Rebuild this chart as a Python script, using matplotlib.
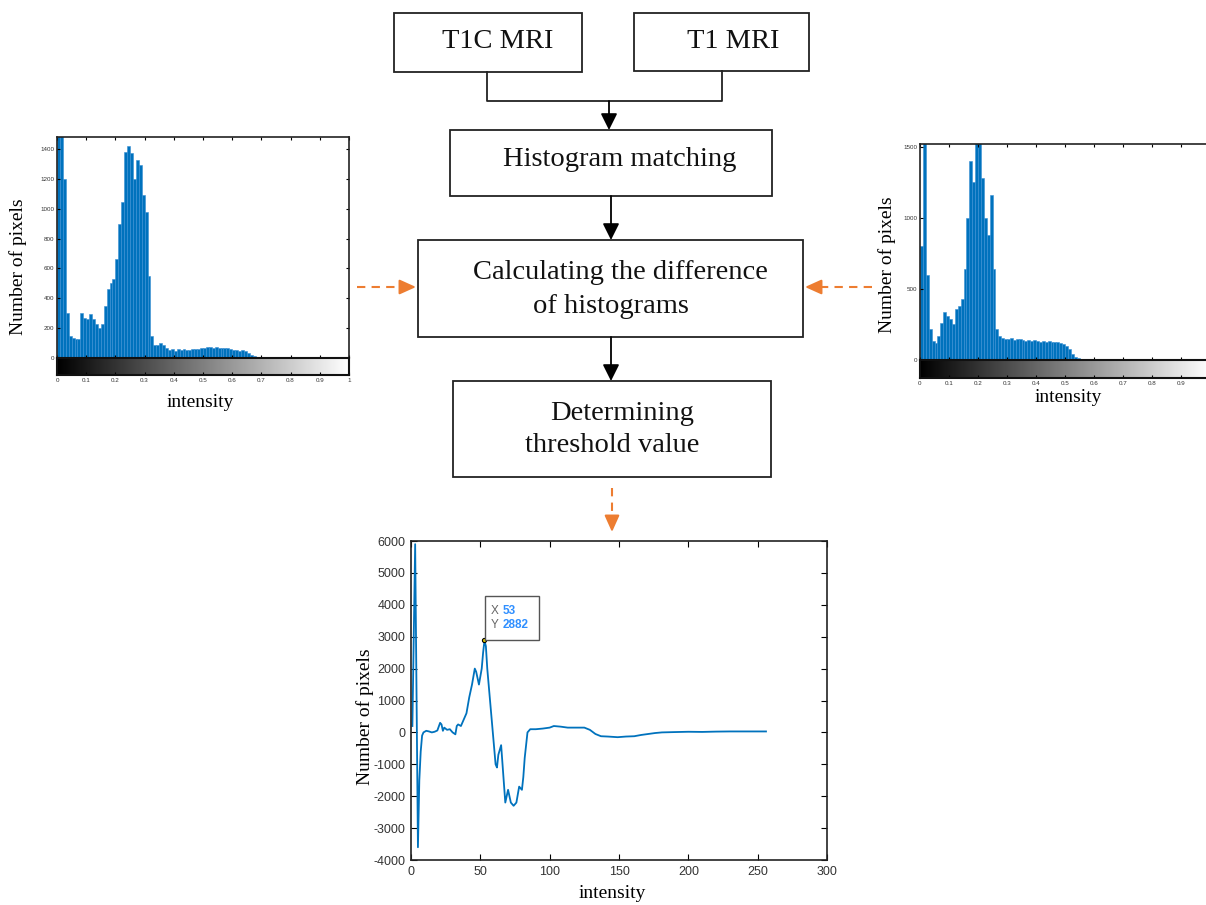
import matplotlib
matplotlib.use("Agg")
import matplotlib.pyplot as plt
import matplotlib.transforms as mtransforms
from matplotlib.patches import Rectangle
import numpy as np

plt.rcParams["axes.unicode_minus"] = False

W, H = 1206, 905

# histogram of T1C image (left), bins of width 0.01 starting at 0
t1c_counts = [3000, 2500, 1200, 300, 146, 135, 128, 124, 303, 270,
              258, 292, 258, 225, 202, 225, 348, 460, 505, 528,
              663, 900, 1045, 1380, 1420, 1370, 1200, 1325, 1290, 1090,
              977, 550, 146, 90, 90, 100, 90, 67, 56, 60,
              50, 62, 55, 58, 52, 56, 60, 58, 62, 66,
              70, 72, 74, 70, 72, 68, 70, 66, 64, 62,
              56, 54, 50, 56, 45, 35, 22, 15, 10, 5, 2]

# histogram of T1 image (right)
t1_counts = [800, 2000, 600, 217, 135, 123, 170, 260, 335, 311,
             288, 252, 358, 382, 430, 642, 996, 1397, 1255, 1600,
             1600, 1280, 996, 878, 1161, 642, 217, 170, 158, 150,
             146, 155, 140, 150, 145, 140, 135, 138, 132, 140,
             136, 130, 135, 128, 132, 130, 126, 128, 120, 115,
             100, 75, 40, 24, 12, 6, 4, 2]

# difference of the histograms
diff_x = [1, 3, 5, 6, 7, 8, 9, 11, 13, 15, 17, 19, 21, 22, 23, 24, 26, 28, 30, 32,
          33, 34, 36, 38, 40, 42, 44, 46, 47, 49, 51, 52, 53, 54, 55, 57, 59, 61, 62, 63,
          65, 66, 68, 69, 70, 72, 74, 76, 78, 80, 81, 82, 84, 86, 90, 95, 100, 103, 108, 113,
          119, 125, 129, 133, 137, 142, 149, 155, 161, 166, 171, 176, 181, 190, 200, 210, 220, 230,
          240, 250, 256]
diff_y = [200, 5900, -3600, -1500, -600, -100, 0, 50, 30, 0, 20, 60, 300, 250, 50, 150, 80, 100, 0, -60,
          200, 250, 200, 400, 600, 1100, 1500, 2000, 1900, 1500, 2000, 2500, 2882, 2700, 2000, 1000, 0, -1000, -1100, -700,
          -400, -1000, -2200, -2000, -1800, -2200, -2300, -2200, -1700, -1800, -1400, -800, 0, 100, 100, 120, 150, 200, 180, 150,
          150, 150, 80, -50, -120, -130, -150, -130, -120, -80, -50, -20, 0, 10, 20, 15, 25, 30,
          30, 30, 30]
tip_x, tip_y = 53, 2882

blue = "#0072BD"
orange = "#ED7D31"
serif = "Liberation Serif"
sans = "Liberation Sans"


def fr(x0, y0, x1, y1):
    # pixel box (top-left origin) -> figure fraction rect
    return [x0 / W, 1 - y1 / H, (x1 - x0) / W, (y1 - y0) / H]


fig = plt.figure(figsize=(W / 100, H / 100), dpi=100)

# ---- flowchart layer
bg = fig.add_axes([0, 0, 1, 1])
bg.set_xlim(0, W)
bg.set_ylim(H, 0)
bg.axis("off")

boxes = [(394, 13, 582, 72), (634, 13, 809, 71), (450, 130, 772, 196),
         (418, 240, 803, 337), (453, 381, 771, 477)]
for x0, y0, x1, y1 in boxes:
    bg.add_patch(Rectangle((x0, y0), x1 - x0, y1 - y0, fill=False, ec="#222222", lw=1.3))

box_texts = [("T1C MRI", 498, 41), ("T1 MRI", 733, 42), ("Histogram matching", 620, 160),
             ("Calculating the difference", 620, 272), ("of histograms", 611, 306),
             ("Determining", 622, 413), ("threshold value", 612, 445)]
for s, x, y in box_texts:
    bg.text(x, y, s, ha="center", va="center", fontsize=20.5, family=serif, color="#111111")

# connector between the two inputs
bg.plot([487, 487, 722, 722], [72, 101, 101, 71], color="#222222", lw=1.3)

black_arrows = [((609, 101), (609, 130)), ((611, 196), (611, 240)), ((611, 337), (611, 381))]
for (xs, ys), (xe, ye) in black_arrows:
    bg.annotate("", xy=(xe, ye), xytext=(xs, ys),
                arrowprops=dict(arrowstyle="-|>,head_length=1.0,head_width=0.5",
                                color="black", lw=1.3, shrinkA=0, shrinkB=0))

orange_arrows = [((357, 287), (416, 287)), ((872, 287), (805, 287)), ((612, 488), (612, 532))]
for (xs, ys), (xe, ye) in orange_arrows:
    # dashed shaft, solid head
    hx = xe - np.sign(xe - xs) * 14
    hy = ye - np.sign(ye - ys) * 14
    bg.plot([xs, hx], [ys, hy], color=orange, lw=1.5, ls=(0, (4, 3)))
    bg.annotate("", xy=(xe, ye), xytext=(hx, hy),
                arrowprops=dict(arrowstyle="-|>,head_length=1.0,head_width=0.45",
                                color=orange, lw=1.5, shrinkA=0, shrinkB=0))

gradient = np.linspace(0, 1, 256).reshape(1, -1)
cb_ticks = np.round(np.arange(0, 1.01, 0.1), 1)
cb_labels = ["0"] + ["%.1f" % v for v in cb_ticks[1:-1]] + ["1"]


def histogram_panel(rect_ax, rect_cb, counts, ymax, yticks, nlabels):
    ax = fig.add_axes(fr(*rect_ax))
    centers = np.arange(len(counts)) * 0.01 + 0.005
    ax.bar(centers, counts, width=0.01, color=blue, edgecolor="#3a8fd4", lw=0.4)
    ax.set_xlim(0, 1)
    ax.set_ylim(0, ymax)
    ax.set_xticks(cb_ticks)
    ax.set_xticklabels([])
    ax.set_yticks(yticks)
    ax.set_yticklabels([str(v) for v in yticks], fontsize=4.5, family=sans, color="#333333")
    ax.tick_params(direction="in", length=2.5, width=0.8, top=True, right=True, pad=2)
    for sp in ax.spines.values():
        sp.set_linewidth(1.2)
        sp.set_color("#222222")

    cb = fig.add_axes(fr(*rect_cb))
    cb.imshow(gradient, cmap="gray", aspect="auto", extent=(0, 1, 0, 1))
    cb.set_xlim(0, 1)
    cb.set_xticks(cb_ticks[:nlabels])
    cb.set_xticklabels(cb_labels[:nlabels], fontsize=4.5, family=sans, color="#333333")
    cb.set_yticks([])
    cb.tick_params(direction="in", length=2, width=0.8, pad=2)
    for sp in cb.spines.values():
        sp.set_linewidth(1.5)
        sp.set_color("#111111")
    return ax


histogram_panel((57, 137, 349, 358), (57, 358, 349, 375), t1c_counts, 1480,
                list(range(0, 1401, 200)), 11)
fig.text(18 / W, 1 - 267 / H, "Number of pixels", rotation=90, ha="center", va="center",
         fontsize=14, family=serif)
fig.text(200 / W, 1 - 402 / H, "intensity", ha="center", va="center", fontsize=14, family=serif)

histogram_panel((920, 144, 1210, 360), (920, 360, 1210, 378), t1_counts, 1520,
                [0, 500, 1000, 1500], 10)
fig.text(887 / W, 1 - 265 / H, "Number of pixels", rotation=90, ha="center", va="center",
         fontsize=14, family=serif)
fig.text(1068 / W, 1 - 398 / H, "intensity", ha="center", va="center", fontsize=14, family=serif)

# ---- difference plot
ax3 = fig.add_axes(fr(411, 541, 827, 860))
ax3.plot(diff_x, diff_y, color=blue, lw=1.3)
ax3.set_xlim(0, 300)
ax3.set_ylim(-4000, 6000)
ax3.set_xticks(range(0, 301, 50))
ax3.set_yticks(range(-4000, 6001, 1000))
ax3.tick_params(direction="in", length=4, width=0.8, top=True, right=True, labelsize=9,
                labelcolor="#333333", pad=4)
for lab in ax3.get_xticklabels() + ax3.get_yticklabels():
    lab.set_family(sans)
for sp in ax3.spines.values():
    sp.set_linewidth(1.2)
    sp.set_color("#222222")
fig.text(365 / W, 1 - 717 / H, "Number of pixels", rotation=90, ha="center", va="center",
         fontsize=14, family=serif)
fig.text(612 / W, 1 - 893 / H, "intensity", ha="center", va="center", fontsize=14, family=serif)

# data tip
ax3.plot([tip_x], [tip_y], "o", ms=3, mfc="#d9c400", mec="black", mew=0.8, zorder=5)
tip_tr = mtransforms.Affine2D() + mtransforms.ScaledTranslation(tip_x, tip_y, ax3.transData)
ax3.add_patch(Rectangle((1, 0), 54, 44, transform=tip_tr, fill=True, fc="white",
                        ec="#555555", lw=1.0, clip_on=False, zorder=6))
ax3.annotate("X\nY", xy=(tip_x, tip_y), xytext=(6, 9), textcoords="offset pixels",
             ha="left", va="bottom", fontsize=8.5, family=sans, color="#666666",
             linespacing=1.3, zorder=7, annotation_clip=False)
ax3.annotate("%d\n%d" % (tip_x, tip_y), xy=(tip_x, tip_y), xytext=(18, 9),
             textcoords="offset pixels", ha="left", va="bottom", fontsize=8.5, family=sans,
             weight="bold", color="#2f8fff", linespacing=1.3, zorder=7, annotation_clip=False)

fig.savefig("out.png", dpi=100)
